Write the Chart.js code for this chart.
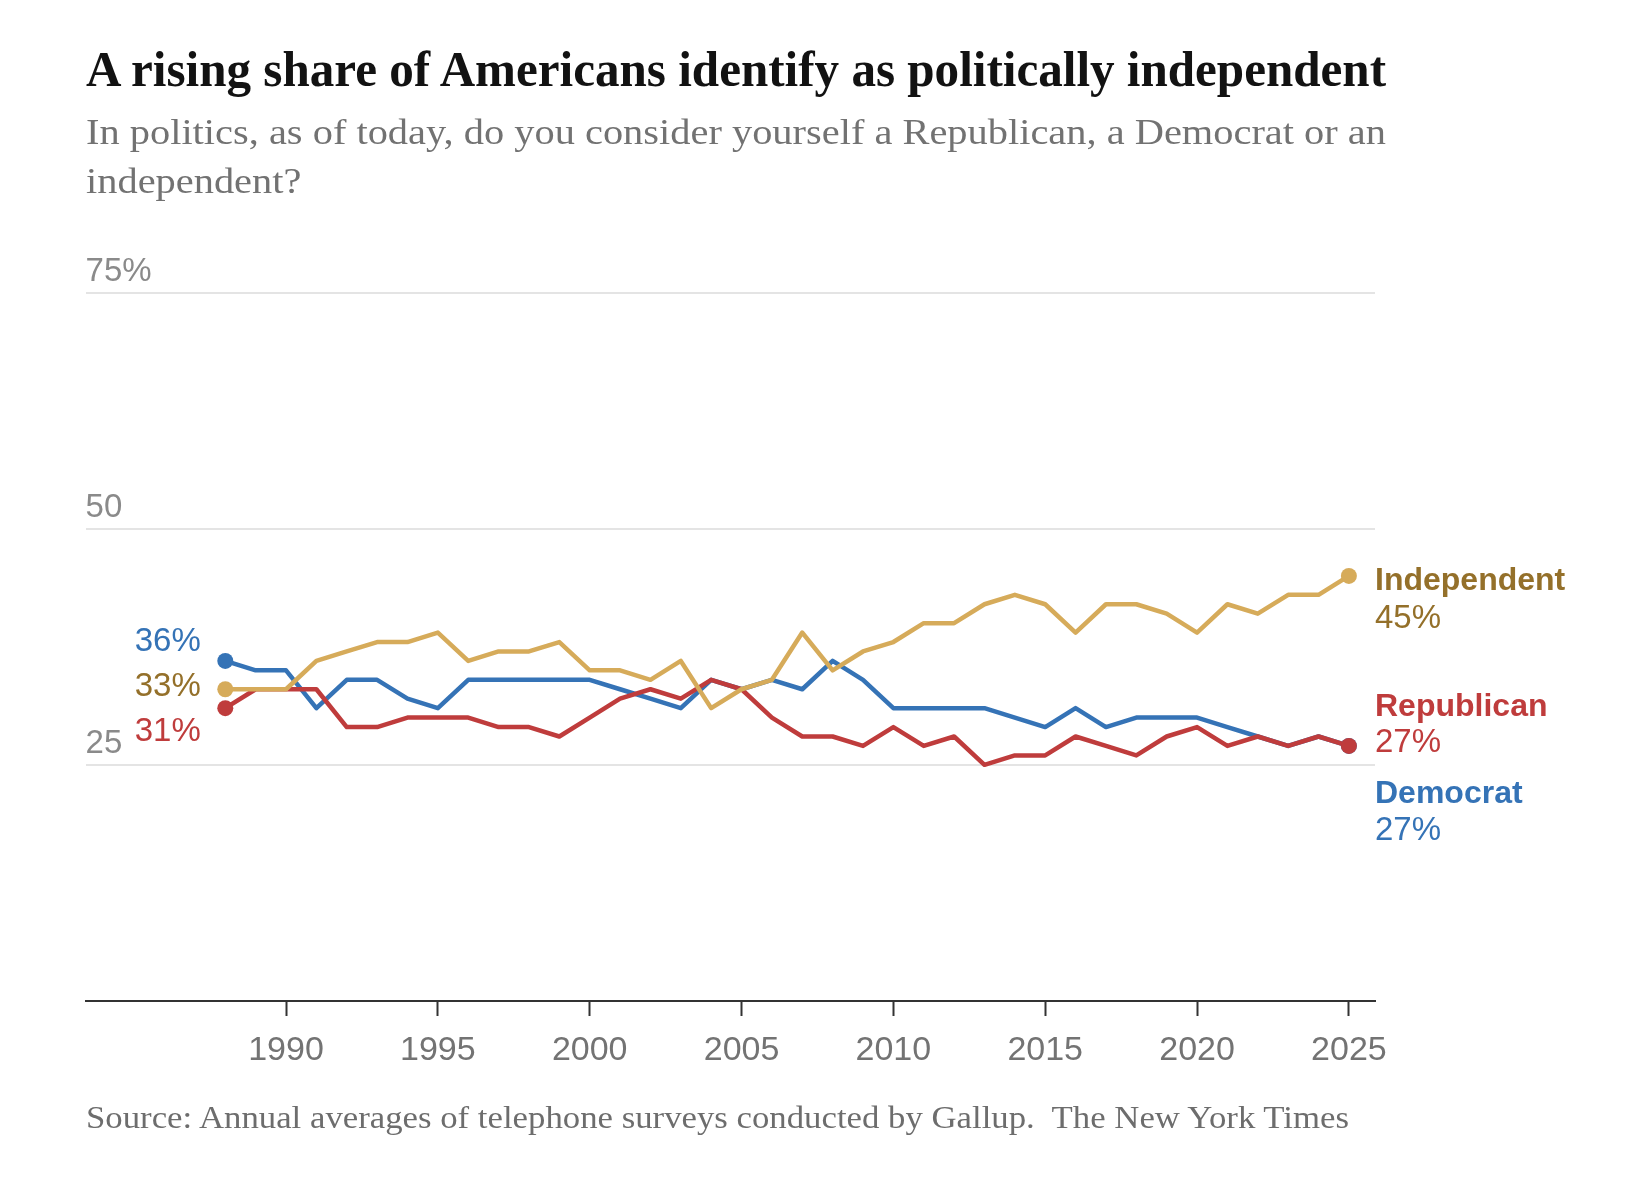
<!DOCTYPE html>
<html><head><meta charset="utf-8">
<script src="https://cdn.jsdelivr.net/npm/chart.js@4.4.1/dist/chart.umd.min.js"></script>
<style>
html,body{margin:0;padding:0;background:#fff;width:1636px;height:1182px;overflow:hidden;}
#wrap{position:relative;width:1636px;height:1182px;}
canvas{position:absolute;left:0;top:0;}
.t{position:absolute;left:85.6px;white-space:nowrap;transform-origin:0 0;display:inline-block;}
#title{top:44px;font:bold 51px/51px "Liberation Serif",serif;color:#121212;}
.sub{font:36px/49px "Liberation Serif",serif;color:#727272;}
#source{top:1102px;font:31px/31px "Liberation Serif",serif;color:#6d6d6d;}
</style></head>
<body><div id="wrap">
<canvas id="c" width="1636" height="1182"></canvas>
<div id="title" class="t">A rising share of Americans identify as politically independent</div>
<div id="sub1" class="t sub" style="top:108px">In politics, as of today, do you consider yourself a Republican, a Democrat or an</div>
<div id="sub2" class="t sub" style="top:157px">independent?</div>
<div id="source" class="t">Source: Annual averages of telephone surveys conducted by Gallup.&nbsp; The New York Times</div>
</div>
<script>
const years = [1988,1989,1990,1991,1992,1993,1994,1995,1996,1997,1998,1999,2000,2001,2002,2003,2004,2005,2006,2007,2008,2009,2010,2011,2012,2013,2014,2015,2016,2017,2018,2019,2020,2021,2022,2023,2024,2025];
const democrat    = [36,35,35,31,34,34,32,31,34,34, 34,34,34,33,32,31,34,33,34,33, 36,34,31,31,31,31,30,29,31,29, 30,30,30,29,28,27,28,27];
const republican  = [31,33,33,33,29,29,30,30,30,29, 29,28,30,32,33,32,34,33,30,28, 28,27,29,27,28,25,26,26,28,27, 26,28,29,27,28,27,28,27];
const independent = [33,33,33,36,37,38,38,39,36,37, 37,38,35,35,34,36,31,33,34,39, 35,37,38,40,40,42,43,42,39,42, 42,41,39,42,41,43,43,45];
const seriesNames = ['Independent','Republican','Democrat'];
const xTicks = [1990,1995,2000,2005,2010,2015,2020,2025];
const yTicks = [25,50,75];
const yTickLabels = ['25','50','75%'];

// styles (kept apart from data)
const styles = {
  Independent: {line:'#d6ab5a', text:'#94702a', left:7.2,  name:14.4, value:51.7},
  Republican:  {line:'#bf3c3c', text:'#bf3c3c', left:32.8, name:-29.8, value:6.5},
  Democrat:    {line:'#3573b6', text:'#3573b6', left:-10.3, name:57.5, value:94.2}
};
const valuesByName = {Independent:independent, Republican:republican, Democrat:democrat};

function fit(el, target){ const w = el.getBoundingClientRect().width; const s = target / w; el.style.transform = 'scaleX(' + s + ')'; return s; }
fit(document.getElementById('title'), 1300);
const s1 = fit(document.getElementById('sub1'), 1300);
document.getElementById('sub2').style.transform = 'scaleX(' + s1 + ')';
fit(document.getElementById('source'), 1263);

const last = years.length - 1;
const datasets = seriesNames.map(name => ({
  label: name,
  data: years.map((yr, i) => ({x: yr, y: valuesByName[name][i]})),
  borderColor: styles[name].line,
  backgroundColor: styles[name].line,
  borderWidth: 4.5,
  tension: 0,
  borderJoinStyle: 'round',
  borderCapStyle: 'round',
  pointRadius: ctx => (ctx.dataIndex === 0 || ctx.dataIndex === last) ? 8 : 0,
  pointHoverRadius: 0,
  pointBorderWidth: 0,
  pointBackgroundColor: styles[name].line
}));

const endLabels = {
  id: 'endLabels',
  afterDatasetsDraw(chart){
    const {ctx, scales:{x, y}} = chart;
    ctx.save();
    ctx.textBaseline = 'alphabetic';
    ctx.font = '33px "Liberation Sans", Arial, sans-serif';
    ctx.textAlign = 'right';
    seriesNames.forEach(name => {
      const v = valuesByName[name][0];
      ctx.fillStyle = styles[name].text;
      ctx.fillText(v + '%', x.getPixelForValue(years[0]) - 24.5, y.getPixelForValue(v) + styles[name].left);
    });
    ctx.textAlign = 'left';
    const rx = chart.chartArea.right;
    seriesNames.forEach(name => {
      const v = valuesByName[name][last];
      const py = y.getPixelForValue(v);
      ctx.fillStyle = styles[name].text;
      ctx.font = 'bold 32px "Liberation Sans", Arial, sans-serif';
      ctx.fillText(name, rx, py + styles[name].name);
      ctx.font = '33px "Liberation Sans", Arial, sans-serif';
      ctx.fillText(v + '%', rx, py + styles[name].value);
    });
    ctx.restore();
  }
};

new Chart(document.getElementById('c'), {
  type: 'line',
  data: {datasets},
  options: {
    responsive: false,
    animation: false,
    events: [],
    layout: {padding: {left: 85.6, right: 261, top: 292.5, bottom: 111}},
    plugins: {legend: {display: false}, tooltip: {enabled: false}, title: {display: false}},
    scales: {
      x: {
        type: 'linear', position: 'bottom',
        min: 1983.4, max: 2025.86,
        afterBuildTicks: s => { s.ticks = xTicks.map(v => ({value: v})); },
        afterFit: s => { s.height = 70; },
        ticks: {
          callback: v => String(v),
          font: {family: '"Liberation Sans", Arial, sans-serif', size: 34},
          color: '#737373', padding: 14, maxRotation: 0, autoSkip: false
        },
        grid: {drawOnChartArea: false, drawTicks: true, tickLength: 15, tickColor: '#333', tickWidth: 2},
        border: {display: true, color: '#333', width: 2}
      },
      y: {
        type: 'linear', position: 'left',
        min: 0, max: 75,
        afterBuildTicks: s => { s.ticks = yTicks.map(v => ({value: v})); },
        ticks: {
          mirror: true, padding: 0, labelOffset: -21,
          callback: v => yTickLabels[yTicks.indexOf(v)],
          font: {family: '"Liberation Sans", Arial, sans-serif', size: 33},
          color: '#8a8a8a'
        },
        grid: {color: '#e4e4e4', lineWidth: 2, drawTicks: false},
        border: {display: false}
      }
    }
  },
  plugins: [endLabels]
});
</script>
</body></html>
